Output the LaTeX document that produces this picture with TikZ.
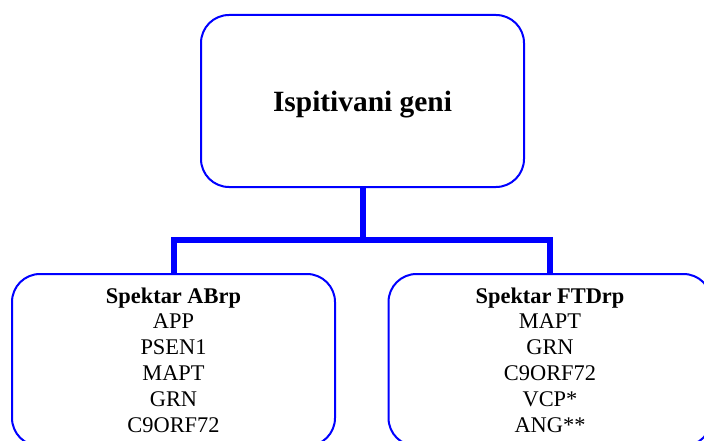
\documentclass[tikz,border=0pt]{standalone}
\usepackage{fontspec}
\setmainfont{Liberation Serif}
\begin{document}
\begin{tikzpicture}[x=1pt,y=-1pt,
  genebox/.style={draw=blue, line width=2pt, rounded corners=28pt,
    minimum width=323pt, minimum height=172pt, inner sep=0pt, fill=white},
  boxtext/.style={align=center, inner sep=0pt,
    font=\fontsize{22.4}{25.8}\selectfont},
  conn/.style={draw=blue, line width=6pt, line join=miter}]
  \useasboundingbox (0,0) rectangle (704,441);

  % boxes
  \node[genebox] (top) at (362.5,101) {};
  \node[genebox, anchor=north] (abrp) at (173.5,273) {};
  \node[genebox, anchor=north] (ftd) at (550,273) {};

  % texts
  \node[anchor=base, inner sep=0pt, font=\fontsize{29.4}{34}\selectfont\bfseries]
    (topText) at (362.5,112) {Ispitivani geni};
  \node[boxtext, anchor=base] (abrpText) at (173.5,432)
    {\textbf{Spektar ABrp}\\APP\\PSEN1\\MAPT\\GRN\\C9ORF72};
  \node[boxtext, anchor=base] (ftdText) at (550,432)
    {\textbf{Spektar FTDrp}\\MAPT\\GRN\\C9ORF72\\VCP*\\ANG**};

  % connectors
  \coordinate (bus) at (362.5,240);
  \draw[conn] (top.south) -- (bus);
  \draw[conn] (abrp.north) |- (bus) -| (ftd.north);
\end{tikzpicture}
\end{document}
